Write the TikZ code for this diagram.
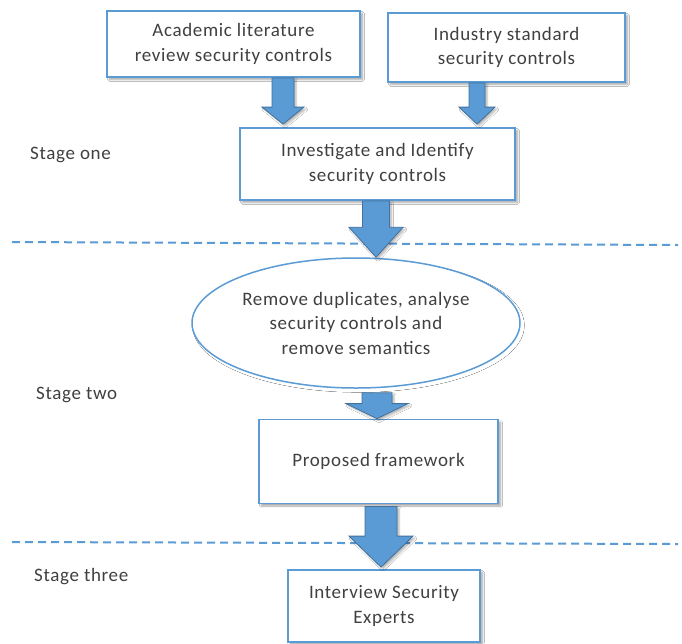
\documentclass[tikz,border=0pt]{standalone}
\usepackage{fontspec}
\setmainfont[LetterSpace=3.5]{Carlito}
\usetikzlibrary{calc,shapes.geometric,shadows.blur}
\definecolor{boxblue}{HTML}{5B9BD5}
\definecolor{edgeblue}{HTML}{41719C}
\definecolor{txt}{HTML}{404040}
\tikzset{
  box/.style={draw=boxblue, line width=1.8pt, fill=white, inner sep=0pt,
    align=center, text=txt, font=\fontsize{19}{24.5}\selectfont,
    blur shadow={shadow xshift=2.5pt, shadow yshift=-2.5pt, shadow opacity=35, shadow blur steps=6}},
  oval/.style={box, ellipse, draw=boxblue, line width=1.5pt, blur shadow={shadow opacity=0}},
  stagelabel/.style={anchor=west, inner sep=0pt, text=txt, font=\fontsize{19}{24.5}\selectfont},
  sepline/.style={draw=boxblue, line width=2pt, dash pattern=on 8pt off 5pt},
  fatarrow/.style={fill=boxblue, draw=edgeblue, line width=0.8pt, line join=miter,
    blur shadow={shadow xshift=2pt, shadow yshift=-2pt, shadow opacity=30, shadow blur steps=5}}
}
% #1 start, #2 tip, #3 shaft half width, #4 head half width, #5 head length
\newcommand\bigarrow[5]{%
  \path[fatarrow] let \p1=(#1), \p2=(#2) in
    (\x1-#3,\y1) -- (\x1+#3,\y1) -- (\x1+#3,\y2+#5) -- (\x1+#4,\y2+#5) --
    (\x1,\y2) -- (\x1-#4,\y2+#5) -- (\x1-#3,\y2+#5) -- cycle;}
\begin{document}
\begin{tikzpicture}[x=1pt,y=-1pt]
\useasboundingbox (0,0) rectangle (682,643);
\fill[white] (0,0) rectangle (682,643);

% separators
\coordinate (s1a) at (12,242); \coordinate (s1b) at (678,245);
\coordinate (s2a) at (12,542); \coordinate (s2b) at (678,544);
\draw[sepline] (s1a) -- (s1b);
\draw[sepline] (s2a) -- (s2b);

% boxes
\node[box, minimum width=253pt, minimum height=66pt] (acad) at (233.5,44) {Academic literature\\review security controls};
\node[box, minimum width=237pt, minimum height=69pt] (ind) at (506.5,47.5) {Industry standard\\security controls};
\node[box, minimum width=275pt, minimum height=72pt] (inv) at (377.5,164) {Investigate and Identify\\security controls};
\node[oval, minimum width=328pt, minimum height=130pt] (rem) at (356,323) {Remove duplicates, analyse\\security controls and\\remove semantics};
\node[box, minimum width=239pt, minimum height=84pt] (prop) at (378.5,461.5) {Proposed framework};
\node[box, minimum width=192pt, minimum height=72pt] (intv) at (384,606) {Interview Security\\Experts};

% stage labels
\node[stagelabel] (st1) at (30,155) {Stage one};
\node[stagelabel] (st2) at (36,395) {Stage two};
\node[stagelabel] (st3) at (34,577) {Stage three};

% arrow end points
\coordinate (a1s) at (acad.south -| 283,0);  \coordinate (a1e) at ([yshift=3pt]inv.north -| 283,0);
\coordinate (a2s) at (ind.south -| 477,0);   \coordinate (a2e) at ([yshift=3pt]inv.north -| 477,0);
\coordinate (a3s) at (inv.south -| 376,0);   \coordinate (a3e) at (rem.north -| 376,0);
\coordinate (a4s) at ([yshift=-4pt]rem.south -| 377,0); \coordinate (a4e) at (prop.north -| 377,0);
\coordinate (a5s) at ([yshift=-2pt]prop.south -| 381,0); \coordinate (a5e) at ([yshift=2pt]intv.north -| 381,0);

\bigarrow{a1s}{a1e}{11}{21}{17}
\bigarrow{a2s}{a2e}{8}{18}{17}
\bigarrow{a3s}{a3e}{13.5}{27}{30}
\bigarrow{a4s}{a4e}{15}{31}{15}
\bigarrow{a5s}{a5e}{16}{32}{31}
\end{tikzpicture}
\end{document}
